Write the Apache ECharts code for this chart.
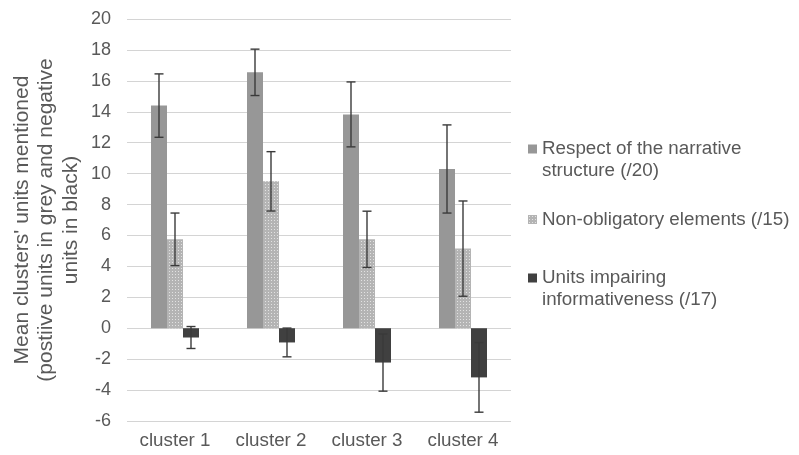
<!DOCTYPE html>
<html>
<head>
<meta charset="utf-8">
<script src="https://cdn.jsdelivr.net/npm/echarts@6/dist/echarts.min.js"></script>
<style>
html,body{margin:0;padding:0;background:#fff;}
#chart{width:799px;height:455px;}
</style>
</head>
<body>
<div id="chart"></div>
<script>
var categories = ['cluster 1', 'cluster 2', 'cluster 3', 'cluster 4'];
var seriesNames = ['Respect of the narrative\nstructure (/20)', 'Non-obligatory elements (/15)', 'Units impairing\ninformativeness (/17)'];
var respect = [14.4, 16.55, 13.83, 10.3];
var respectErr = [2.05, 1.5, 2.1, 2.85];
var nonOblig = [5.75, 9.5, 5.75, 5.15];
var nonObligErr = [1.7, 1.92, 1.82, 3.08];
var impairing = [-0.6, -0.92, -2.22, -3.18];
var impairingErr = [0.71, 0.93, 1.85, 2.25];
var yTicks = {min: -6, max: 20, interval: 2};

// dotted pattern for the second series
var pc = document.createElement('canvas');
pc.width = 3; pc.height = 3;
var pctx = pc.getContext('2d');
pctx.fillStyle = '#b4b4b4';
pctx.fillRect(0, 0, 3, 3);
pctx.fillStyle = '#e2e2e2';
pctx.fillRect(1, 1, 1, 1);
var dotted = {image: pc, repeat: 'repeat'};

var BAR_W = 16;
var colors = ['#979797', dotted, '#404040'];

function errData(vals, errs) {
  return vals.map(function (v, i) { return [i, v, errs[i]]; });
}

function errSeries(vals, errs, offset) {
  return {
    type: 'custom',
    z: 5,
    silent: true,
    data: errData(vals, errs),
    renderItem: function (params, api) {
      var i = api.value(0), v = api.value(1), e = api.value(2);
      var t = api.coord([i, v + e]);
      var b = api.coord([i, v - e]);
      var x = t[0] + offset;
      var cap = 4.5;
      var st = {stroke: '#3a3a3a', lineWidth: 1.4};
      return {
        type: 'group',
        children: [
          {type: 'line', shape: {x1: x, y1: t[1], x2: x, y2: b[1]}, style: st},
          {type: 'line', shape: {x1: x - cap, y1: t[1], x2: x + cap, y2: t[1]}, style: st},
          {type: 'line', shape: {x1: x - cap, y1: b[1], x2: x + cap, y2: b[1]}, style: st}
        ]
      };
    }
  };
}

var iconTall = 'path://M0,0L0.01,0M0,6.5L9,6.5L9,15.5L0,15.5ZM0,44L0.01,44';
var legendText = {color: '#595959', fontSize: 18.8, fontFamily: 'Liberation Sans, Arial, sans-serif', lineHeight: 22};

var chart = echarts.init(document.getElementById('chart'), null, {renderer: 'canvas'});
chart.setOption({
  backgroundColor: '#ffffff',
  animation: false,
  grid: {left: 127, right: 288, top: 19, bottom: 34, containLabel: false},
  legend: [
    {data: [seriesNames[0]], left: 528, top: 138, padding: 0, itemWidth: 9, itemHeight: 44, icon: iconTall, textStyle: legendText, selectedMode: false},
    {data: [seriesNames[1]], left: 528, top: 208.5, padding: 0, itemWidth: 9, itemHeight: 9, icon: 'rect', textStyle: legendText, selectedMode: false},
    {data: [seriesNames[2]], left: 528, top: 267, padding: 0, itemWidth: 9, itemHeight: 44, icon: iconTall, textStyle: legendText, selectedMode: false}
  ],
  xAxis: {
    type: 'category',
    data: categories,
    position: 'bottom',
    axisLine: {show: false, onZero: false},
    axisTick: {show: false},
    axisLabel: {color: '#595959', fontSize: 18.8, fontFamily: 'Liberation Sans, Arial, sans-serif', margin: 10}
  },
  yAxis: {
    type: 'value',
    min: yTicks.min, max: yTicks.max, interval: yTicks.interval,
    axisLine: {show: false},
    axisTick: {show: false},
    splitLine: {lineStyle: {color: '#d4d4d4', width: 1}},
    axisLabel: {color: '#595959', fontSize: 18, fontFamily: 'Liberation Sans, Arial, sans-serif', margin: 16},
    name: "Mean clusters' units mentioned\n(postiive units in grey and negative\nunits in black)",
    nameLocation: 'middle',
    nameRotate: 90,
    nameGap: 44,
    nameTextStyle: {color: '#595959', fontSize: 21, fontFamily: 'Liberation Sans, Arial, sans-serif', lineHeight: 24.5, align: 'center'}
  },
  series: [
    {name: seriesNames[0], type: 'bar', data: respect, barWidth: BAR_W, barGap: '0%', itemStyle: {color: colors[0]}},
    {name: seriesNames[1], type: 'bar', data: nonOblig, barWidth: BAR_W, barGap: '0%', itemStyle: {color: colors[1]}},
    {name: seriesNames[2], type: 'bar', data: impairing, barWidth: BAR_W, barGap: '0%', itemStyle: {color: colors[2]}},
    errSeries(respect, respectErr, -BAR_W),
    errSeries(nonOblig, nonObligErr, 0),
    errSeries(impairing, impairingErr, BAR_W)
  ]
});
</script>
</body>
</html>
